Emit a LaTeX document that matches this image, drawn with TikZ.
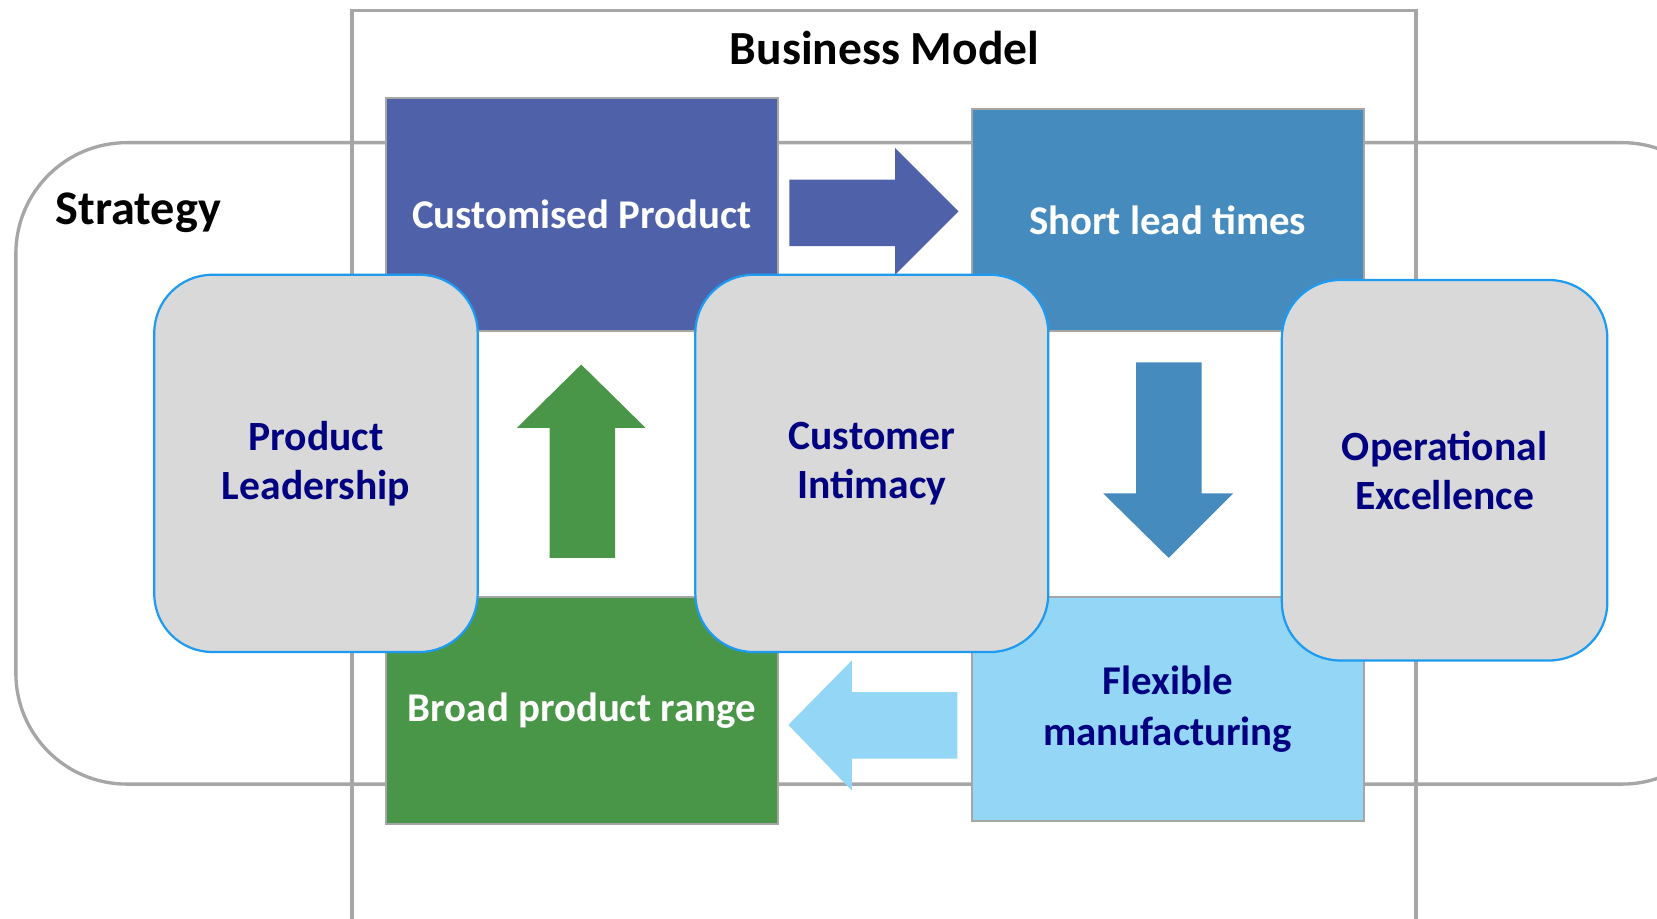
\documentclass[tikz,border=0pt]{standalone}
\usepackage{fontspec}
\setmainfont{Carlito}
\usetikzlibrary{positioning}

\definecolor{framegray}{RGB}{166,166,166}
\definecolor{boxgray}{RGB}{217,217,217}
\definecolor{edgeblue}{RGB}{30,155,240}
\definecolor{navy}{RGB}{0,0,128}
\definecolor{custpurple}{RGB}{79,97,169}
\definecolor{leadblue}{RGB}{69,139,190}
\definecolor{flexblue}{RGB}{148,214,245}
\definecolor{rangegreen}{RGB}{73,150,72}

\begin{document}
\begin{tikzpicture}[x=0.1mm,y=-0.1mm]
\tikzstyle{every node}+=[inner sep=0pt]
\tikzstyle{square}=[draw=framegray, line width=0.6pt, minimum width=37.1mm, align=center,
  font=\fontsize{11}{13.5}\selectfont\bfseries]
\tikzstyle{pillar}=[draw=edgeblue, line width=0.6pt, fill=boxgray, rounded corners=5.5mm,
  align=center, text=navy, font=\fontsize{11.2}{13.3}\selectfont\bfseries]
\useasboundingbox (0,0) rectangle (1568,869);
\clip (0,0) rectangle (1568,869);
% outer frames
\draw [framegray, line width=0.9pt] (333,10) rectangle (1340,920);
\draw [framegray, line width=0.9pt, rounded corners=10.5mm] (15,135) rectangle (1640,742);
\node (bm) at (837,45) {\fontsize{12.8}{15}\selectfont\bfseries Business Model};
\node [anchor=west] (strat) at (52,201) {\fontsize{13}{15}\selectfont\bfseries Strategy};
% the four steps
\node [square, fill=custpurple, text=white, minimum height=22mm] (custom) at (550.5,203) {Customised Product};
\node [square, fill=leadblue, text=white, minimum height=21mm] (short) at (1105,208) {Short lead times};
\node [square, fill=rangegreen, text=white, minimum height=21.5mm] (broad) at (550.5,672.5) {Broad product range};
\node [square, fill=flexblue, text=navy, minimum height=21.2mm] (flex) at (1105,671) {Flexible\\manufacturing};
% block arrows
\fill [custpurple] (747,170) -- (847,170) -- (847,140) -- (907,200) -- (847,260) -- (847,233) -- (747,233) -- cycle;
\fill [leadblue] (1075,343) -- (1137,343) -- (1137,467) -- (1167,467) -- (1106,528) -- (1044,467) -- (1075,467) -- cycle;
\fill [flexblue] (906,655) -- (806,655) -- (806,625) -- (746,686) -- (806,748) -- (806,718) -- (906,718) -- cycle;
\fill [rangegreen] (520,528) -- (520,405) -- (489,405) -- (550,345) -- (611,405) -- (582,405) -- (582,528) -- cycle;
% strategy pillars
\node [pillar, minimum width=30.6mm, minimum height=35.7mm] (lead) at (299,438.5) {Product\\Leadership};
\node [pillar, minimum width=33.4mm, minimum height=35.7mm] (intim) at (825,438.5) {Customer\\Intimacy};
\node [pillar, minimum width=30.8mm, minimum height=36mm] (oper) at (1367,445) {Operational\\Excellence};
\end{tikzpicture}
\end{document}
